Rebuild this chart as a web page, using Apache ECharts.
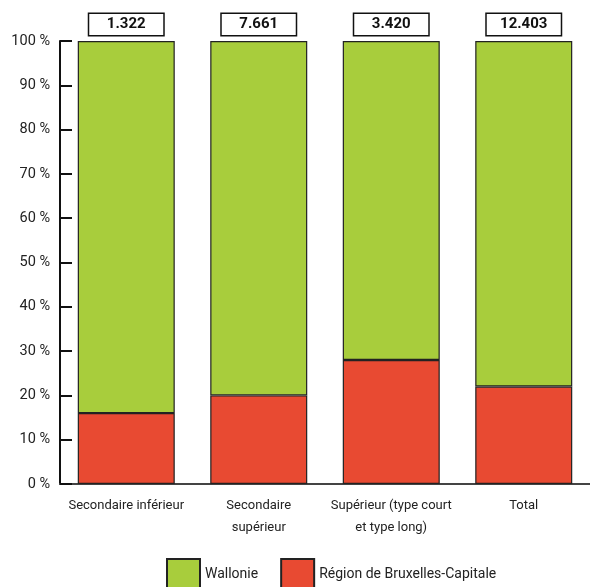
<!DOCTYPE html>
<html><head><meta charset="utf-8">
<script src="https://cdn.jsdelivr.net/npm/echarts@6/dist/echarts.min.js"></script>
<style>html,body{margin:0;padding:0;background:#fff}#c{width:590px;height:587px}</style>
</head><body><div id="c"></div>
<script>
const categories = ['Secondaire inférieur', 'Secondaire\nsupérieur', 'Supérieur (type court\net type long)', 'Total'];
const bruxelles = [16, 20, 28, 22];
const wallonie = [84, 80, 72, 78];
const totals = ['1.322', '7.661', '3.420', '12.403'];
const yTicks = [0, 10, 20, 30, 40, 50, 60, 70, 80, 90, 100];

const FONT = 'Roboto, sans-serif';
const chart = echarts.init(document.getElementById('c'));
chart.setOption({
  animation: false,
  textStyle: { fontFamily: FONT },
  grid: { left: 60, top: 41, width: 537, height: 443, containLabel: false },
  legend: {
    data: ['Wallonie', 'Région de Bruxelles-Capitale'],
    left: 161, top: 553, itemWidth: 33, itemHeight: 30, itemGap: 22,
    textStyle: { fontFamily: FONT, fontSize: 14, color: '#222' },
    icon: 'rect'
  },
  xAxis: {
    type: 'category', data: categories,
    axisLine: { lineStyle: { color: '#444', width: 2 } },
    axisTick: { show: false },
    axisLabel: { color: '#222', fontSize: 13, lineHeight: 22, margin: 11, fontFamily: FONT, interval: 0 }
  },
  yAxis: {
    type: 'value', min: 0, max: 100, interval: 10,
    axisLine: { show: true, lineStyle: { color: '#111', width: 2 } },
    axisTick: { show: true, inside: true, length: 12, lineStyle: { color: '#111', width: 2 } },
    splitLine: { show: false },
    axisLabel: { color: '#222', fontSize: 14.5, margin: 10, fontFamily: FONT, formatter: v => yTicks.includes(v) ? v + ' %' : '' }
  },
  series: [
    {
      name: 'Région de Bruxelles-Capitale', type: 'bar', stack: 's', data: bruxelles, barWidth: 97,
      itemStyle: { color: '#e84a32', borderColor: '#222', borderWidth: 1.2 }
    },
    {
      name: 'Wallonie', type: 'bar', stack: 's', data: wallonie, barWidth: 97,
      itemStyle: { color: '#a8cd3c', borderColor: '#222', borderWidth: 1.2 },
      label: {
        show: true, position: 'top', distance: 6,
        formatter: p => totals[p.dataIndex],
        fontFamily: FONT, fontSize: 15, fontWeight: 'bold', color: '#111',
        backgroundColor: '#fff', borderColor: '#111', borderWidth: 1.5,
        width: 74, align: 'center', padding: [2, 0, 2, 0], lineHeight: 17
      }
    }
  ]
});
</script></body></html>
